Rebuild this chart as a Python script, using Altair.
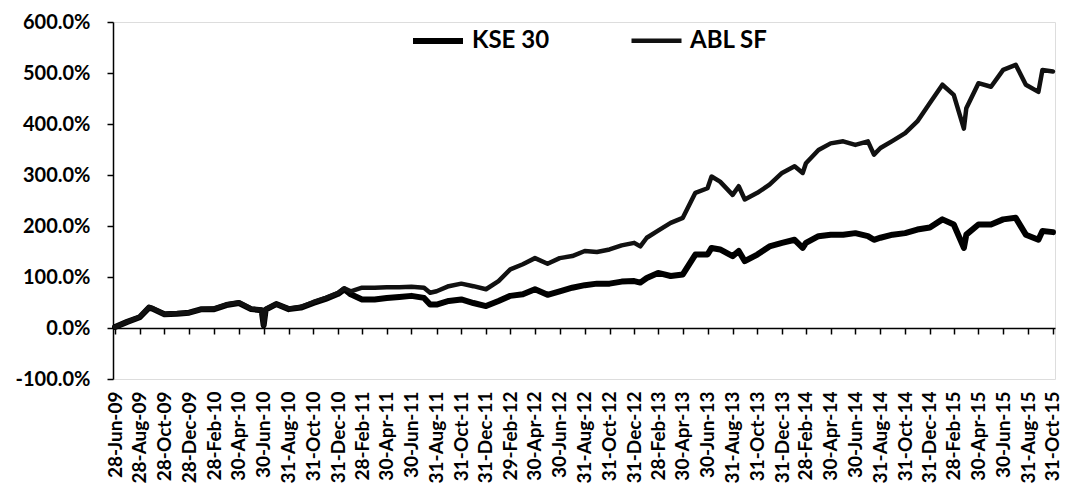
import altair as alt
import pandas as pd

# ---- data (cumulative return, %) ----
dates = [
    "2009-06-28", "2009-07-28", "2009-08-28", "2009-09-20", "2009-09-28", "2009-10-28",
    "2009-11-28", "2009-12-28", "2010-01-28", "2010-02-28", "2010-03-30", "2010-04-30",
    "2010-05-30", "2010-06-25", "2010-06-30", "2010-07-05", "2010-07-31", "2010-08-31",
    "2010-09-30", "2010-10-31", "2010-11-30", "2010-12-31", "2011-01-15", "2011-01-31",
    "2011-02-28", "2011-03-31", "2011-04-30", "2011-05-31", "2011-06-30", "2011-07-31",
    "2011-08-15", "2011-08-31", "2011-09-30", "2011-10-31", "2011-11-30", "2011-12-31",
    "2012-01-31", "2012-02-29", "2012-03-31", "2012-04-30", "2012-05-31", "2012-06-30",
    "2012-07-31", "2012-08-31", "2012-09-30", "2012-10-31", "2012-11-30", "2012-12-31",
    "2013-01-15", "2013-01-31", "2013-02-28", "2013-03-31", "2013-04-30", "2013-05-31",
    "2013-06-30", "2013-07-10", "2013-07-31", "2013-08-31", "2013-09-15", "2013-09-30",
    "2013-10-31", "2013-11-30", "2013-12-31", "2014-01-31", "2014-02-20", "2014-02-28",
    "2014-03-31", "2014-04-30", "2014-05-31", "2014-06-30", "2014-07-31", "2014-08-15",
    "2014-08-31", "2014-09-30", "2014-10-31", "2014-11-30", "2014-12-31", "2015-01-31",
    "2015-02-28", "2015-03-25", "2015-03-31", "2015-04-30", "2015-05-31", "2015-06-30",
    "2015-07-31", "2015-08-25", "2015-09-25", "2015-10-05", "2015-10-31",
]

kse30 = [
    2, 12, 21, 40, 38, 27,
    28, 30, 37, 37, 45, 49,
    37, 35, 5, 36, 47, 37,
    40, 49, 57, 67, 76, 66,
    56, 56, 59, 61, 63, 59,
    46, 46, 53, 56, 49, 43,
    53, 63, 66, 76, 65, 72,
    79, 84, 87, 87, 91, 92,
    89, 98, 108, 102, 105, 144,
    144, 157, 154, 141, 151, 131,
    144, 160, 167, 173, 157, 167,
    180, 183, 183, 186, 180, 173,
    177, 183, 186, 193, 197, 213,
    203, 157, 183, 203, 203, 213,
    216, 183, 173, 190, 188,
]

ablsf = [
    2, 12, 22, 41, 39, 27,
    29, 30, 37, 38, 46, 50,
    38, 36, 6, 37, 47, 38,
    41, 51, 59, 69, 78, 72,
    79, 79, 80, 80, 81, 79,
    69, 72, 82, 87, 82, 76,
    92, 115, 125, 137, 126, 137,
    141, 151, 149, 154, 162, 167,
    160, 177, 191, 206, 216, 265,
    274, 297, 287, 261, 278, 252,
    265, 281, 304, 317, 304, 323,
    349, 362, 366, 359, 366, 340,
    353, 367, 382, 405, 441, 477,
    457, 391, 431, 480, 473, 506,
    516, 477, 463, 506, 503,
]

series_names = ["KSE 30", "ABL SF"]

tick_dates = [
    "2009-06-28", "2009-08-28", "2009-10-28", "2009-12-28", "2010-02-28", "2010-04-30",
    "2010-06-30", "2010-08-31", "2010-10-31", "2010-12-31", "2011-02-28", "2011-04-30",
    "2011-06-30", "2011-08-31", "2011-10-31", "2011-12-31", "2012-02-29", "2012-04-30",
    "2012-06-30", "2012-08-31", "2012-10-31", "2012-12-31", "2013-02-28", "2013-04-30",
    "2013-06-30", "2013-08-31", "2013-10-31", "2013-12-31", "2014-02-28", "2014-04-30",
    "2014-06-30", "2014-08-31", "2014-10-31", "2014-12-31", "2015-02-28", "2015-04-30",
    "2015-06-30", "2015-08-31", "2015-10-31",
]
y_ticks = [-100, 0, 100, 200, 300, 400, 500, 600]
x_domain = ["2009-06-23", "2015-11-05"]

# ---- build table ----
n = len(dates)
df = pd.DataFrame({
    "date": dates * 2,
    "value": kse30 + ablsf,
    "series": [series_names[0]] * n + [series_names[1]] * n,
})


def to_ms(s):
    return int(pd.Timestamp(s, tz="UTC").timestamp() * 1000)


tick_ms = [to_ms(d) for d in tick_dates]
dom_ms = [to_ms(d) for d in x_domain]

FONT = "Lato"
PLOT_H = 357

legend_cfg = dict(
    orient="none", legendX=297, legendY=-9, direction="horizontal", title=None,
    labelFont=FONT, labelFontSize=24, labelFontWeight="bold", labelColor="black",
    symbolType="stroke", symbolSize=2500, labelOffset=6, columnPadding=72, padding=0,
)

chart = alt.Chart(df).mark_line(strokeJoin="round", strokeCap="round").encode(
    x=alt.X(
        "date:T",
        scale=alt.Scale(domain=dom_ms),
        axis=alt.Axis(
            values=tick_ms,
            labelExpr="utcFormat(datum.value, '%d-%b-%y')",
            labelAngle=-90, offset=-PLOT_H / 7, tickSize=6, labelPadding=57,
            title=None, grid=False, domainColor="black", tickColor="black",
            domainWidth=1.5, tickWidth=1.5,
            labelFont=FONT, labelFontSize=19, labelFontWeight="bold", labelColor="black",
            labelOverlap=False, labelFlush=False,
        ),
    ),
    y=alt.Y(
        "value:Q",
        scale=alt.Scale(domain=[-100, 600], nice=False, zero=False),
        axis=alt.Axis(
            values=y_ticks,
            labelExpr="datum.value < 0 ? '-' + format(-datum.value, '.1f') + '%' : format(datum.value, '.1f') + '%'",
            grid=False, title=None, tickSize=6, labelPadding=17,
            domainColor="black", tickColor="black", domainWidth=1.5, tickWidth=1.5,
            labelFont=FONT, labelFontSize=20, labelFontWeight="bold", labelColor="black",
        ),
    ),
    color=alt.Color(
        "series:N",
        scale=alt.Scale(domain=series_names, range=["black", "#111111"]),
        legend=alt.Legend(**legend_cfg),
    ),
    strokeWidth=alt.StrokeWidth(
        "series:N",
        scale=alt.Scale(domain=series_names, range=[6, 4.5]),
        legend=alt.Legend(**legend_cfg),
    ),
).properties(
    width=942, height=PLOT_H, autosize="none",
    padding={"left": 105, "top": 14, "right": 10, "bottom": 114},
).configure_view(stroke=None).configure(background="white")

chart.save("out.html", embed_options={"renderer": "svg", "actions": False})
